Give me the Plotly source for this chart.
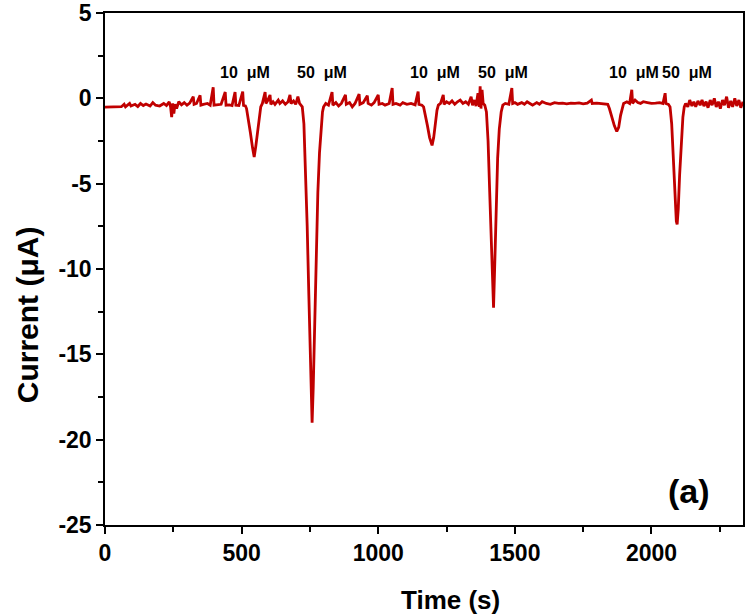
import plotly.graph_objects as go

# amperometric trace (time in s, current in uA)
time_s = [
    0, 20, 40, 60, 70, 75, 90, 95, 110, 120, 130, 140, 150, 165, 175, 185, 200, 215, 225, 235,
    240, 244, 248, 252, 256, 262, 270, 280, 290, 300, 310, 323, 326, 335, 348, 351, 360, 375, 385, 396,
    399, 410, 425, 440, 443, 455, 465, 476, 479, 490, 504, 507, 514,
    518, 525, 532, 540, 546, 552, 558, 564, 570, 576, 586, 589, 595, 604, 607, 615, 622, 634, 640,
    650, 660, 670, 677, 681, 690, 698, 706, 712, 718, 722,
    728, 734, 740, 746, 751, 755, 758, 762, 767, 773, 779, 785, 791, 796, 800, 808, 818, 831, 834,
    845, 855, 865, 880, 883, 895, 905, 915, 930, 933, 945, 960, 963, 975, 985, 1000, 1003, 1015,
    1025, 1040, 1051, 1054, 1065, 1080, 1090, 1105, 1120, 1135, 1146, 1149, 1160, 1166,
    1172, 1180, 1188, 1197, 1203, 1209, 1215, 1220, 1228, 1238, 1241, 1250, 1260, 1270, 1280, 1290,
    1300, 1310, 1320, 1330, 1340, 1345, 1352, 1358, 1365, 1370, 1373, 1376, 1380, 1384, 1390,
    1396, 1402, 1408, 1414, 1419, 1422, 1426, 1431, 1437, 1443, 1450, 1456, 1465, 1478, 1489, 1492,
    1500, 1510, 1525, 1535, 1545, 1555, 1565, 1580, 1590, 1600, 1615, 1630, 1645, 1660, 1675, 1690,
    1705, 1720, 1735, 1750, 1765, 1780, 1783, 1800, 1815, 1830, 1840,
    1846, 1855, 1864, 1873, 1880, 1887, 1893, 1898, 1910, 1920, 1928, 1931, 1940, 1950, 1960, 1970,
    1985, 2000, 2015, 2030, 2042, 2050, 2053, 2062, 2068,
    2074, 2080, 2086, 2091, 2094, 2098, 2103, 2109, 2115, 2120, 2125, 2133, 2140, 2148, 2155, 2162,
    2170, 2178, 2185, 2192, 2200, 2207, 2215, 2222, 2230, 2237, 2245, 2252, 2260, 2267, 2275, 2282,
    2290, 2297, 2305, 2312, 2320, 2327, 2335,
]
current_uA = [
    -0.52, -0.5, -0.5, -0.49, -0.35, -0.5, -0.3, -0.45, -0.35, -0.48, -0.3, -0.42, -0.33, -0.45, -0.25, -0.4, -0.45, -0.3, -0.42, -0.2,
    -0.5, -1.1, -0.3, -0.9, -0.35, -0.6, -0.2, -0.38, -0.25, -0.4, -0.28, 0.1, -0.35, -0.3, 0.18, -0.4, -0.35, -0.3, -0.4, 0.65,
    -0.4, -0.38, -0.35, 0.37, -0.4, -0.38, -0.42, 0.37, -0.4, -0.42, 0.4, -0.42, -0.45,
    -0.6, -1.2, -2.0, -2.9, -3.44, -2.8, -1.9, -1.0, -0.5, -0.3, 0.37, -0.3, -0.15, 0.2, -0.35, -0.2, -0.35, -0.1, -0.3,
    -0.15, -0.35, -0.2, 0.2, -0.3, -0.15, -0.35, 0.1, -0.3, -0.4, -0.5,
    -1.5, -4.0, -7.5, -11.5, -15.5, -18.5, -19.0, -17.0, -13.5, -9.0, -5.5, -3.2, -1.6, -0.8, -0.5, -0.3, -0.4, 0.37, -0.4,
    -0.25, -0.45, -0.3, 0.2, -0.35, -0.25, -0.5, -0.3, 0.25, -0.35, -0.25, 0.15, -0.3, -0.4, -0.25, 0.2, -0.35, -0.3,
    -0.4, -0.3, 0.6, -0.35, -0.3, -0.4, -0.25, -0.35, -0.3, -0.38, 0.4, -0.35, -0.4, -0.5,
    -0.9, -1.6, -2.3, -2.76, -2.3, -1.4, -0.7, -0.4, -0.3, 0.2, -0.35, -0.2, -0.3, -0.15, -0.35, -0.2,
    -0.1, -0.3, -0.2, -0.35, 0.1, -0.4, -0.1, -0.45, 0.3, -0.5, 0.7, -0.6, 0.5, -0.3, -0.4,
    -0.8, -2.5, -5.5, -9.0, -12.0, -12.27, -10.0, -6.5, -3.5, -1.8, -0.8, -0.4, -0.3, -0.35, 0.6, -0.3,
    -0.25, -0.35, -0.25, -0.35, -0.2, -0.3, -0.4, -0.25, -0.35, -0.2, -0.3, -0.35, -0.25, -0.3, -0.28, -0.32,
    -0.28, -0.3, -0.27, -0.32, -0.28, -0.1, -0.3, -0.28, -0.3, -0.3, -0.35,
    -0.6, -1.1, -1.6, -1.94, -1.7, -1.0, -0.5, -0.3, -0.2, -0.3, 0.5, -0.3, -0.1, -0.25, -0.3, -0.2,
    -0.25, -0.3, -0.28, -0.25, -0.3, 0.3, -0.3, -0.35, -0.5,
    -1.5, -3.5, -5.8, -7.2, -7.39, -6.5, -4.5, -2.5, -1.1, -0.5, -0.3, -0.5, -0.1, -0.45, -0.2, -0.5,
    -0.15, -0.4, -0.1, -0.45, -0.2, -0.55, -0.1, -0.4, 0.0, -0.5, -0.2, -0.6, -0.1, -0.4, 0.1, -0.55,
    -0.15, -0.5, 0.0, -0.45, -0.1, -0.55, -0.2,
]

# concentration labels above each injection
label_text = ["10 \u03bcM", "50 \u03bcM", "10 \u03bcM", "50 \u03bcM", "10 \u03bcM", "50 \u03bcM"]
label_time = [512, 795, 1208, 1457, 1935, 2130]

# axis ticks (hyphen minus, as in the original)
y_tickvals = [5, 0, -5, -10, -15, -20, -25]
y_ticktext = ["5", "0", "-5", "-10", "-15", "-20", "-25"]
x_tickvals = [0, 500, 1000, 1500, 2000]

FONT = "Liberation Sans, Arial"

fig = go.Figure()
fig.add_trace(go.Scatter(
    x=time_s, y=current_uA, mode="lines",
    line=dict(color="#C00000", width=2.8),
    showlegend=False,
))

for txt, t in zip(label_text, label_time):
    fig.add_annotation(x=t, y=1.5, text="<b>" + txt.replace(" ", "&nbsp;&nbsp;") + "</b>",
                       showarrow=False, font=dict(family=FONT, size=16, color="black"),
                       yanchor="middle")

fig.add_annotation(x=0.951, y=0.025, xref="paper", yref="paper", text="<b>(a)</b>",
                   showarrow=False, xanchor="right", yanchor="bottom",
                   font=dict(family=FONT, size=34, color="black"))

# axis titles sit a little off-centre in the original, so place them as annotations
fig.add_annotation(x=0.542, y=-0.146, xref="paper", yref="paper", text="<b>Time (s)</b>",
                   showarrow=False, xanchor="center", yanchor="middle",
                   font=dict(family=FONT, size=26, color="black"))
fig.add_annotation(x=-0.122, y=0.41, xref="paper", yref="paper", text="<b>Current (\u03bcA)</b>",
                   showarrow=False, textangle=-90, xanchor="center", yanchor="middle",
                   font=dict(family=FONT, size=30, color="black"))

axis_common = dict(
    showline=True, linecolor="black", linewidth=1.5, mirror=True,
    ticks="outside", ticklen=7, tickwidth=1.5, tickcolor="black",
    showgrid=False, zeroline=False, automargin=False, ticklabeloverflow="allow",
    tickfont=dict(family=FONT, size=23, color="black", weight="bold"),
)

fig.update_xaxes(range=[0, 2335], tickvals=x_tickvals,
                 minor=dict(ticks="outside", ticklen=5, tickwidth=1.5, tickcolor="black",
                            tickvals=[250, 750, 1250, 1750, 2250]),
                 **axis_common)
fig.update_yaxes(range=[-25, 5], tickvals=y_tickvals, ticktext=y_ticktext,
                 minor=dict(ticks="outside", ticklen=5, tickwidth=1.5, tickcolor="black",
                            tickvals=[2.5, -2.5, -7.5, -12.5, -17.5, -22.5]),
                 **axis_common)

fig.update_layout(
    width=750, height=616,
    margin=dict(l=105, r=7, t=13, b=91),
    paper_bgcolor="white", plot_bgcolor="white",
    font=dict(family=FONT, color="black"),
)

# drop the default 8px body margin so the figure fills the window exactly
fig.write_html("out.html", config={"displayModeBar": False},
               post_script="document.body.style.margin='0';document.body.style.overflow='hidden';")
